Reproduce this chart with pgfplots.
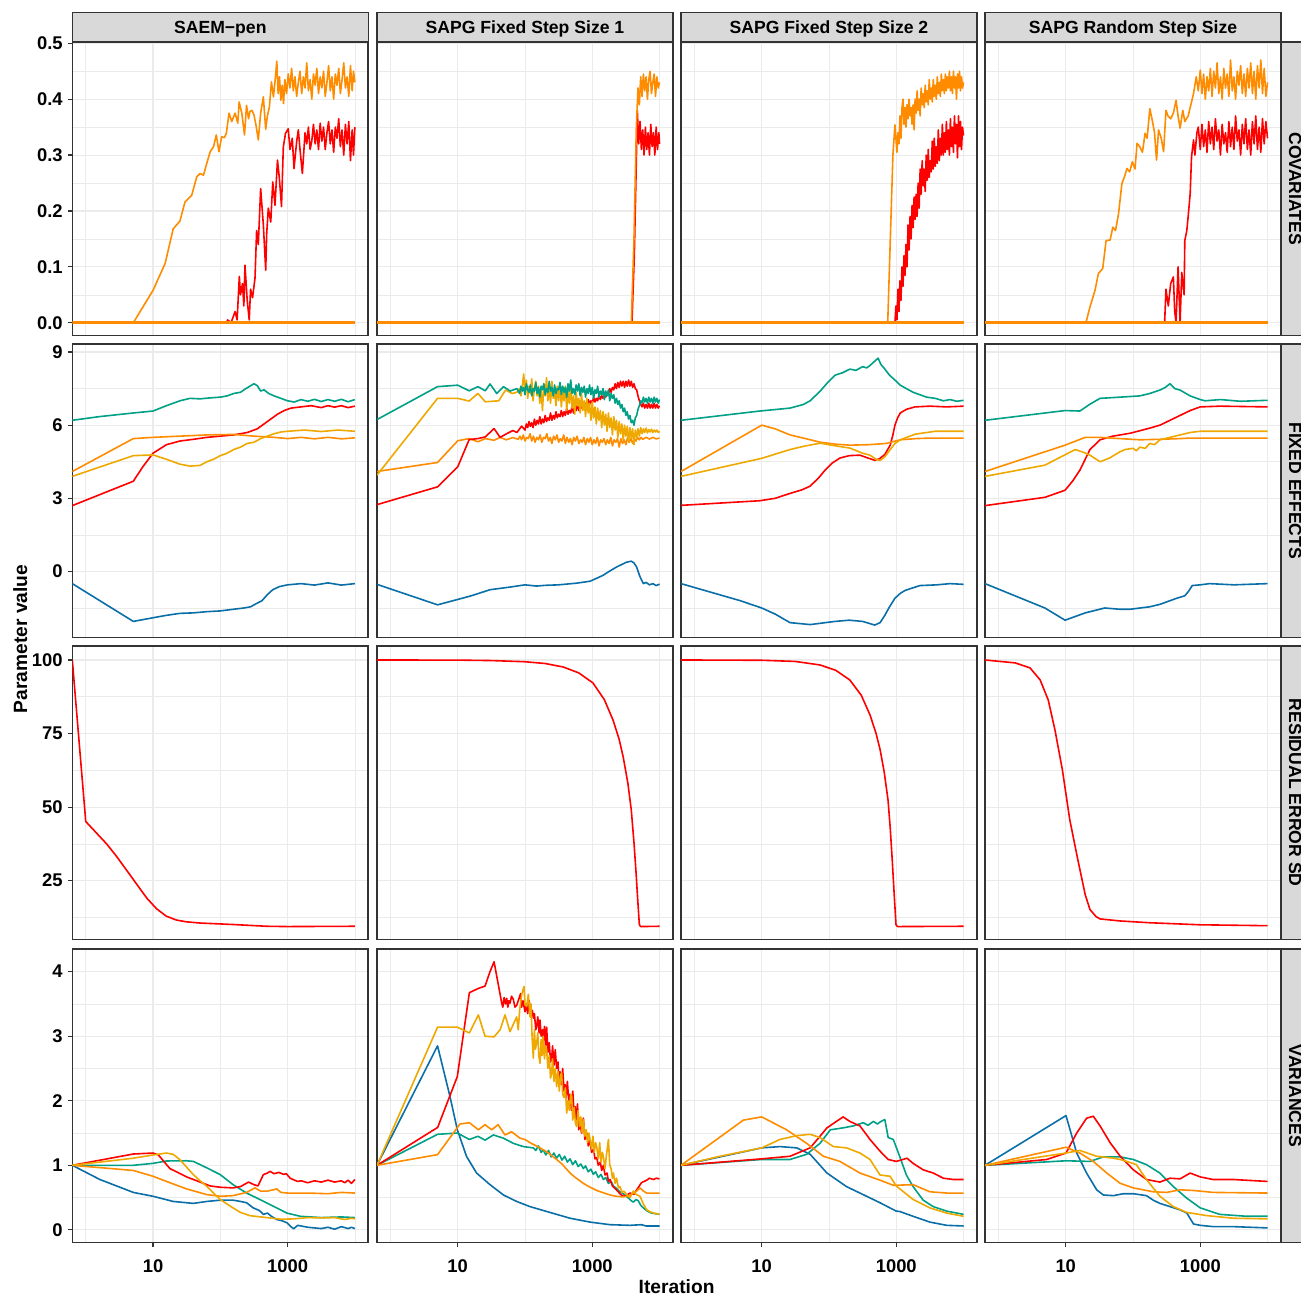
\documentclass[border=0pt]{standalone}
\usepackage{pgfplots}
\pgfplotsset{compat=1.18}
\usepackage{fontspec}
\setmainfont{Liberation Sans}
\definecolor{cRed}{HTML}{FF0000}
\definecolor{cOrg}{HTML}{FF8C00}
\definecolor{cAmb}{HTML}{EFA800}
\definecolor{cTeal}{HTML}{00A087}
\definecolor{cBlue}{HTML}{0A6EA8}
\definecolor{gridc}{HTML}{EBEBEB}
\definecolor{frame}{HTML}{333333}
\definecolor{stripc}{HTML}{D9D9D9}
\pgfplotsset{
  /pgf/number format/assume math mode=true,
  panel/.style={
    scale only axis, width=148pt, height=146.75pt, anchor=north west,
    xmin=-0.2, xmax=4.2, xtick={1,3}, minor xtick={0,2,4},
    grid=both,
    major grid style={draw=gridc, line width=0.55pt},
    minor grid style={draw=gridc, line width=0.28pt},
    axis line style={draw=frame, line width=0.8pt},
    tick align=outside, major tick length=2.2pt, minor tick length=0pt,
    tick pos=left,
    xtick style={draw=none}, ytick style={draw=none},
    ticklabel style={font=\fontsize{9.2}{10}\selectfont\bfseries, text=black},
    every axis plot/.append style={line width=0.8pt, line join=round},
    clip=true,
  },
  inner x/.style={xticklabels={}},
  inner y/.style={yticklabels={}},
  left y/.style={ytick style={draw=frame, line width=0.6pt}, yticklabel style={inner xsep=2.4pt}},
  bottom x/.style={xticklabels={10,1000}, xtick style={draw=frame, line width=0.6pt}, xticklabel style={inner ysep=6.2pt}},
  rowA/.style={ymin=-0.0228, ymax=0.5023, ytick={0,0.1,0.2,0.3,0.4,0.5}, minor ytick={0.05,0.15,0.25,0.35,0.45},
    yticklabel style={/pgf/number format/fixed, /pgf/number format/fixed zerofill, /pgf/number format/precision=1}},
  rowB/.style={ymin=-2.71, ymax=9.33, ytick={0,3,6,9}, minor ytick={-1.5,1.5,4.5,7.5}},
  rowC/.style={ymin=5.0, ymax=104.75, ytick={25,50,75,100}, minor ytick={12.5,37.5,62.5,87.5}},
  rowD/.style={ymin=-0.196, ymax=4.351, ytick={0,1,2,3,4}, minor ytick={0.5,1.5,2.5,3.5}},
}
\begin{document}
\begin{tikzpicture}
% ================= ROW 1: COVARIATES =================
\begin{axis}[panel, rowA, at={(36.15pt,627.5pt)}, inner x, left y]
\addplot[cRed] coordinates {(2.09,0) (2.11,0.005) (2.16,0.0) (2.22,0.02) (2.25,0.005) (2.283,0.083) (2.30,0.05) (2.33,0.07) (2.35,0.03) (2.367,0.103) (2.40,0.04) (2.43,0.005) (2.45,0.06) (2.48,0.045) (2.516,0.08) (2.54,0.165) (2.565,0.14) (2.60,0.24) (2.64,0.175) (2.675,0.094) (2.69,0.16) (2.714,0.205) (2.75,0.18) (2.78,0.252) (2.813,0.21) (2.85,0.291) (2.877,0.26) (2.91,0.208) (2.937,0.315) (2.97,0.339) (3.01,0.347) (3.036,0.31) (3.07,0.33) (3.096,0.276) (3.136,0.325) (3.16,0.345) (3.185,0.31) (3.22,0.267) (3.26,0.34) (3.285,0.32) (3.31,0.35) (3.335,0.31) (3.36,0.325) (3.385,0.355) (3.41,0.32) (3.435,0.345) (3.46,0.31) (3.485,0.357) (3.51,0.325) (3.535,0.35) (3.56,0.31) (3.585,0.34) (3.61,0.36) (3.635,0.32) (3.66,0.345) (3.685,0.305) (3.71,0.35) (3.735,0.33) (3.76,0.365) (3.785,0.315) (3.81,0.345) (3.835,0.30) (3.86,0.355) (3.885,0.32) (3.91,0.36) (3.935,0.29) (3.96,0.345) (3.98,0.30) (4.0,0.35)};
\addplot[cOrg] coordinates {(0.707,0) (1.0,0.058) (1.18,0.106) (1.30,0.168) (1.40,0.182) (1.475,0.216) (1.575,0.228) (1.65,0.261) (1.70,0.267) (1.75,0.264) (1.82,0.294) (1.85,0.306) (1.90,0.315) (1.94,0.336) (1.98,0.306) (2.02,0.333) (2.06,0.331) (2.09,0.339) (2.13,0.375) (2.17,0.36) (2.22,0.375) (2.26,0.357) (2.28,0.395) (2.32,0.375) (2.36,0.336) (2.39,0.389) (2.42,0.365) (2.44,0.378) (2.47,0.38) (2.50,0.372) (2.53,0.354) (2.565,0.327) (2.60,0.375) (2.64,0.404) (2.675,0.346) (2.70,0.37) (2.73,0.386) (2.76,0.431) (2.79,0.404) (2.82,0.44) (2.84,0.468) (2.86,0.41) (2.88,0.44) (2.90,0.398) (2.92,0.425) (2.94,0.392) (2.96,0.435) (2.985,0.41) (3.01,0.445) (3.035,0.42) (3.06,0.455) (3.085,0.415) (3.11,0.44) (3.135,0.405) (3.16,0.43) (3.185,0.45) (3.21,0.41) (3.235,0.44) (3.26,0.42) (3.285,0.465) (3.31,0.415) (3.335,0.435) (3.36,0.40) (3.385,0.445) (3.41,0.425) (3.435,0.455) (3.46,0.41) (3.485,0.44) (3.51,0.42) (3.535,0.45) (3.56,0.405) (3.585,0.43) (3.61,0.46) (3.635,0.415) (3.66,0.44) (3.685,0.40) (3.71,0.445) (3.735,0.425) (3.76,0.455) (3.785,0.41) (3.81,0.435) (3.835,0.465) (3.86,0.42) (3.885,0.44) (3.91,0.405) (3.935,0.46) (3.96,0.415) (3.98,0.45) (4.0,0.43)};
\addplot[cOrg, line width=1.5pt] coordinates {(-0.2,0) (4.0,0)};
\end{axis}
\begin{axis}[panel, rowA, at={(188.5pt,627.5pt)}, inner x, inner y]
\addplot[cRed] coordinates {(3.59,0) (3.625,0.12) (3.65,0.26) (3.67,0.38) (3.69,0.32) (3.71,0.36) (3.73,0.31) (3.75,0.345) (3.77,0.30) (3.79,0.35) (3.81,0.31) (3.83,0.34) (3.85,0.30) (3.87,0.355) (3.89,0.315) (3.91,0.34) (3.93,0.30) (3.95,0.35) (3.97,0.31) (3.99,0.34) (4.0,0.32)};
\addplot[cOrg] coordinates {(3.58,0) (3.62,0.15) (3.655,0.35) (3.68,0.42) (3.70,0.39) (3.72,0.44) (3.74,0.405) (3.76,0.445) (3.78,0.415) (3.80,0.44) (3.82,0.40) (3.84,0.435) (3.86,0.45) (3.88,0.41) (3.90,0.43) (3.92,0.445) (3.94,0.405) (3.96,0.44) (3.98,0.42) (4.0,0.43)};
\addplot[cOrg, line width=1.5pt] coordinates {(-0.2,0) (4.0,0)};
\end{axis}
\begin{axis}[panel, rowA, at={(340.5pt,627.5pt)}, inner x, inner y]
\addplot[cRed] coordinates {(2.98,0.0) (2.995,0.03) (3.01,0.005) (3.025,0.06) (3.04,0.02) (3.055,0.075) (3.07,0.04) (3.085,0.10) (3.10,0.065) (3.115,0.12) (3.13,0.085) (3.145,0.14) (3.16,0.10) (3.175,0.175) (3.19,0.13) (3.205,0.19) (3.22,0.15) (3.235,0.21) (3.25,0.17) (3.265,0.225) (3.28,0.185) (3.295,0.23) (3.31,0.19) (3.325,0.25) (3.34,0.205) (3.355,0.275) (3.37,0.23) (3.385,0.29) (3.40,0.245) (3.415,0.275) (3.43,0.235) (3.445,0.30) (3.46,0.255) (3.475,0.31) (3.49,0.26) (3.505,0.29) (3.52,0.27) (3.535,0.325) (3.55,0.275) (3.565,0.33) (3.58,0.28) (3.595,0.315) (3.61,0.285) (3.625,0.345) (3.64,0.29) (3.655,0.33) (3.67,0.30) (3.685,0.355) (3.70,0.30) (3.715,0.34) (3.73,0.305) (3.745,0.36) (3.76,0.31) (3.775,0.345) (3.79,0.30) (3.805,0.365) (3.82,0.315) (3.835,0.35) (3.85,0.305) (3.865,0.37) (3.88,0.32) (3.895,0.355) (3.91,0.295) (3.925,0.37) (3.94,0.315) (3.955,0.36) (3.97,0.31) (3.985,0.35) (4.0,0.335)};
\addplot[cOrg] coordinates {(2.873,0) (2.95,0.3) (2.98,0.354) (2.995,0.33) (3.01,0.305) (3.025,0.34) (3.04,0.32) (3.055,0.37) (3.07,0.33) (3.085,0.385) (3.10,0.40) (3.115,0.355) (3.13,0.385) (3.145,0.35) (3.16,0.39) (3.175,0.365) (3.19,0.40) (3.205,0.37) (3.22,0.385) (3.235,0.355) (3.25,0.39) (3.265,0.345) (3.28,0.40) (3.295,0.375) (3.31,0.415) (3.325,0.38) (3.34,0.40) (3.355,0.37) (3.37,0.42) (3.385,0.39) (3.40,0.41) (3.415,0.385) (3.43,0.425) (3.445,0.395) (3.46,0.415) (3.475,0.39) (3.49,0.435) (3.505,0.40) (3.52,0.42) (3.535,0.395) (3.55,0.435) (3.565,0.405) (3.58,0.425) (3.595,0.40) (3.61,0.44) (3.625,0.41) (3.64,0.43) (3.655,0.405) (3.67,0.445) (3.685,0.415) (3.70,0.435) (3.715,0.41) (3.73,0.445) (3.745,0.415) (3.76,0.44) (3.775,0.42) (3.79,0.45) (3.805,0.415) (3.82,0.44) (3.835,0.41) (3.85,0.45) (3.865,0.42) (3.88,0.44) (3.895,0.40) (3.91,0.445) (3.925,0.42) (3.94,0.45) (3.955,0.415) (3.97,0.44) (3.985,0.42) (4.0,0.43)};
\addplot[cOrg, line width=1.5pt] coordinates {(-0.2,0) (4.0,0)};
\end{axis}
\begin{axis}[panel, rowA, at={(492.5pt,627.5pt)}, inner x, inner y]
\addplot[cRed] coordinates {(2.47,0) (2.49,0.06) (2.525,0.03) (2.56,0.07) (2.60,0.082) (2.62,0.02) (2.64,0.0) (2.67,0.10) (2.70,0.0) (2.725,0.09) (2.76,0.05) (2.77,0.147) (2.80,0.165) (2.82,0.19) (2.85,0.231) (2.87,0.297) (2.90,0.327) (2.92,0.30) (2.95,0.34) (2.97,0.35) (3.0,0.31) (3.025,0.355) (3.05,0.315) (3.075,0.345) (3.10,0.305) (3.125,0.36) (3.15,0.32) (3.175,0.35) (3.20,0.31) (3.225,0.365) (3.25,0.325) (3.275,0.345) (3.30,0.30) (3.325,0.355) (3.35,0.32) (3.375,0.34) (3.40,0.305) (3.425,0.36) (3.45,0.315) (3.475,0.35) (3.50,0.31) (3.525,0.37) (3.55,0.325) (3.575,0.345) (3.60,0.30) (3.625,0.355) (3.65,0.32) (3.675,0.365) (3.70,0.31) (3.725,0.345) (3.75,0.30) (3.775,0.36) (3.80,0.32) (3.825,0.37) (3.85,0.31) (3.875,0.35) (3.90,0.305) (3.925,0.365) (3.95,0.32) (3.975,0.36) (4.0,0.33)};
\addplot[cOrg] coordinates {(1.30,0) (1.36,0.028) (1.435,0.058) (1.485,0.088) (1.55,0.097) (1.60,0.147) (1.66,0.148) (1.70,0.171) (1.74,0.165) (1.785,0.195) (1.835,0.249) (1.87,0.26) (1.91,0.276) (1.95,0.27) (1.99,0.288) (2.03,0.275) (2.06,0.321) (2.10,0.315) (2.14,0.305) (2.18,0.339) (2.21,0.33) (2.25,0.383) (2.29,0.36) (2.32,0.34) (2.35,0.291) (2.38,0.345) (2.42,0.33) (2.455,0.306) (2.49,0.38) (2.52,0.37) (2.56,0.365) (2.60,0.375) (2.64,0.398) (2.67,0.37) (2.70,0.348) (2.74,0.38) (2.77,0.36) (2.82,0.37) (2.86,0.39) (2.90,0.41) (2.94,0.44) (2.97,0.415) (3.0,0.452) (3.025,0.41) (3.05,0.445) (3.075,0.40) (3.10,0.44) (3.125,0.415) (3.15,0.455) (3.175,0.405) (3.20,0.45) (3.225,0.42) (3.25,0.465) (3.275,0.41) (3.30,0.44) (3.325,0.40) (3.35,0.455) (3.375,0.42) (3.40,0.445) (3.425,0.405) (3.45,0.47) (3.475,0.415) (3.50,0.44) (3.525,0.40) (3.55,0.45) (3.575,0.425) (3.60,0.46) (3.625,0.41) (3.65,0.445) (3.675,0.405) (3.70,0.455) (3.725,0.42) (3.75,0.465) (3.775,0.41) (3.80,0.45) (3.825,0.40) (3.85,0.46) (3.875,0.42) (3.90,0.47) (3.925,0.41) (3.95,0.455) (3.975,0.405) (4.0,0.43)};
\addplot[cOrg, line width=1.5pt] coordinates {(-0.2,0) (4.0,0)};
\end{axis}
% ================= ROW 2: FIXED EFFECTS =================
\begin{axis}[panel, rowB, at={(36.15pt,476.5pt)}, inner x, left y]
\addplot[cTeal] coordinates {(-0.2,6.2) (0.2,6.35) (0.707,6.5) (1.0,6.58) (1.2,6.8) (1.4,7.0) (1.55,7.1) (1.7,7.08) (1.85,7.12) (2.0,7.15) (2.1,7.2) (2.2,7.3) (2.3,7.35) (2.38,7.5) (2.44,7.6) (2.5,7.7) (2.55,7.62) (2.6,7.4) (2.65,7.45) (2.72,7.3) (2.8,7.2) (2.9,7.1) (3.0,7.0) (3.1,6.95) (3.2,7.05) (3.3,6.98) (3.4,7.06) (3.5,6.97) (3.6,7.05) (3.7,6.98) (3.8,7.06) (3.9,6.96) (4.0,7.05)};
\addplot[cRed] coordinates {(-0.2,2.7) (0.707,3.7) (0.85,4.3) (1.0,4.85) (1.2,5.2) (1.4,5.35) (1.6,5.42) (1.8,5.5) (2.0,5.55) (2.2,5.6) (2.4,5.7) (2.55,5.85) (2.65,6.05) (2.75,6.25) (2.85,6.45) (2.95,6.6) (3.05,6.7) (3.2,6.75) (3.35,6.8) (3.5,6.72) (3.6,6.8) (3.7,6.74) (3.8,6.8) (3.9,6.72) (4.0,6.78)};
\addplot[cOrg] coordinates {(-0.2,4.1) (0.707,5.45) (1.0,5.5) (1.4,5.55) (1.8,5.6) (2.2,5.62) (2.5,5.55) (2.8,5.5) (3.0,5.45) (3.2,5.5) (3.4,5.44) (3.6,5.5) (3.8,5.44) (4.0,5.48)};
\addplot[cAmb] coordinates {(-0.2,3.9) (0.707,4.75) (1.0,4.78) (1.2,4.6) (1.4,4.4) (1.55,4.32) (1.7,4.35) (1.8,4.5) (1.9,4.6) (2.0,4.75) (2.1,4.85) (2.2,5.0) (2.3,5.1) (2.4,5.25) (2.5,5.3) (2.6,5.45) (2.7,5.55) (2.8,5.65) (2.9,5.72) (3.0,5.75) (3.25,5.8) (3.5,5.74) (3.75,5.8) (4.0,5.75)};
\addplot[cBlue] coordinates {(-0.2,-0.5) (0.707,-2.05) (1.0,-1.9) (1.2,-1.8) (1.4,-1.72) (1.6,-1.7) (1.8,-1.65) (2.0,-1.62) (2.2,-1.55) (2.35,-1.5) (2.45,-1.45) (2.55,-1.3) (2.62,-1.2) (2.7,-0.95) (2.78,-0.75) (2.88,-0.62) (3.0,-0.55) (3.2,-0.5) (3.4,-0.56) (3.6,-0.47) (3.8,-0.56) (4.0,-0.5)};
\end{axis}
\begin{axis}[panel, rowB, at={(188.5pt,476.5pt)}, inner x, inner y]
\addplot[cOrg] coordinates {(-0.2,4.1) (0.70,4.47) (1.0,5.36) (1.17,5.45) (1.30,5.32) (1.41,5.45) (1.54,5.38) (1.63,5.5) (1.72,5.4) (1.82,5.49) (1.90,5.42) (1.925,5.55) (1.95,5.4) (1.975,5.6) (2.0,5.35) (2.025,5.5) (2.05,5.45) (2.075,5.65) (2.1,5.35) (2.125,5.55) (2.15,5.3) (2.175,5.5) (2.2,5.4) (2.225,5.6) (2.25,5.3) (2.275,5.5) (2.3,5.45) (2.325,5.65) (2.35,5.35) (2.375,5.5) (2.4,5.25) (2.425,5.55) (2.45,5.4) (2.475,5.6) (2.5,5.3) (2.525,5.45) (2.55,5.35) (2.575,5.6) (2.6,5.25) (2.625,5.5) (2.65,5.3) (2.675,5.45) (2.7,5.2) (2.725,5.5) (2.75,5.35) (2.775,5.55) (2.8,5.25) (2.825,5.4) (2.85,5.3) (2.875,5.5) (2.9,5.2) (2.925,5.45) (2.95,5.3) (2.975,5.5) (3.0,5.2) (3.025,5.4) (3.05,5.25) (3.075,5.5) (3.1,5.15) (3.125,5.4) (3.15,5.3) (3.175,5.45) (3.2,5.2) (3.225,5.4) (3.25,5.25) (3.275,5.5) (3.3,5.15) (3.325,5.4) (3.35,5.3) (3.375,5.45) (3.4,5.1) (3.425,5.45) (3.45,5.25) (3.475,5.4) (3.5,5.2) (3.525,5.5) (3.55,5.3) (3.575,5.45) (3.6,5.25) (3.625,5.45) (3.65,5.35) (3.675,5.5) (3.7,5.4) (3.725,5.5) (3.75,5.42) (3.8,5.5) (3.85,5.43) (3.9,5.5) (3.95,5.44) (4.0,5.47)};
\addplot[cRed] coordinates {(-0.2,2.74) (0.70,3.47) (1.0,4.29) (1.17,5.41) (1.30,5.45) (1.41,5.52) (1.54,5.86) (1.63,5.5) (1.72,5.64) (1.82,5.78) (1.88,5.7) (1.95,5.96) (2.00,5.8) (2.02,6.05) (2.04,5.9) (2.06,6.15) (2.08,5.95) (2.10,6.1) (2.12,5.9) (2.14,6.25) (2.16,6.0) (2.18,6.2) (2.20,6.05) (2.22,6.35) (2.24,6.05) (2.26,6.25) (2.28,6.1) (2.30,6.4) (2.32,6.15) (2.34,6.3) (2.36,6.2) (2.38,6.5) (2.40,6.2) (2.42,6.4) (2.44,6.25) (2.46,6.55) (2.48,6.3) (2.50,6.45) (2.52,6.35) (2.54,6.6) (2.56,6.35) (2.58,6.55) (2.60,6.4) (2.62,6.7) (2.64,6.45) (2.66,6.6) (2.68,6.5) (2.70,6.8) (2.72,6.5) (2.74,6.7) (2.76,6.6) (2.78,6.85) (2.80,6.6) (2.82,6.8) (2.84,6.7) (2.86,6.95) (2.88,6.7) (2.90,6.9) (2.92,6.8) (2.94,7.05) (2.96,6.85) (2.98,7.0) (3.00,6.9) (3.02,7.15) (3.04,6.95) (3.06,7.1) (3.08,7.0) (3.10,7.25) (3.12,7.05) (3.14,7.2) (3.16,7.1) (3.18,7.35) (3.20,7.15) (3.22,7.3) (3.24,7.25) (3.26,7.5) (3.28,7.35) (3.30,7.55) (3.32,7.45) (3.34,7.7) (3.36,7.5) (3.38,7.75) (3.40,7.55) (3.42,7.8) (3.44,7.6) (3.46,7.8) (3.48,7.55) (3.50,7.8) (3.52,7.6) (3.54,7.85) (3.56,7.6) (3.58,7.8) (3.60,7.55) (3.62,7.7) (3.64,7.5) (3.66,7.45) (3.68,7.2) (3.70,7.0) (3.72,6.85) (3.74,6.75) (3.76,6.9) (3.78,6.7) (3.80,6.85) (3.82,6.7) (3.84,6.9) (3.86,6.7) (3.88,6.85) (3.90,6.7) (3.92,6.9) (3.94,6.7) (3.96,6.85) (3.98,6.7) (4.0,6.8)};
\addplot[cAmb] coordinates {(-0.2,3.95) (0.70,7.1) (1.0,7.1) (1.17,6.99) (1.30,7.3) (1.41,6.96) (1.61,7.0) (1.71,7.44) (1.81,7.3) (1.88,7.35) (1.92,7.5) (1.94,7.2) (1.96,7.6) (1.98,8.1) (2.00,7.4) (2.02,7.85) (2.04,7.1) (2.06,7.6) (2.08,7.3) (2.10,7.9) (2.12,7.0) (2.14,7.5) (2.16,7.8) (2.18,7.2) (2.20,7.6) (2.22,6.9) (2.24,7.4) (2.26,6.6) (2.28,7.7) (2.30,7.2) (2.32,7.95) (2.34,7.0) (2.36,7.5) (2.38,6.9) (2.40,7.8) (2.42,7.1) (2.44,7.45) (2.46,6.8) (2.48,7.6) (2.50,7.0) (2.52,7.7) (2.54,6.75) (2.56,7.35) (2.58,7.0) (2.60,7.6) (2.62,6.6) (2.64,7.4) (2.66,6.9) (2.68,7.55) (2.70,6.7) (2.72,7.2) (2.74,6.45) (2.76,7.35) (2.78,6.8) (2.80,7.1) (2.82,6.5) (2.84,7.3) (2.86,6.6) (2.88,7.0) (2.90,6.35) (2.92,7.1) (2.94,6.5) (2.96,6.9) (2.98,6.2) (3.00,6.95) (3.02,6.3) (3.04,6.75) (3.06,6.05) (3.08,6.7) (3.10,6.2) (3.12,6.6) (3.14,5.9) (3.16,6.55) (3.18,6.0) (3.20,6.45) (3.22,5.75) (3.24,6.5) (3.26,5.9) (3.28,6.3) (3.30,5.6) (3.32,6.35) (3.34,5.8) (3.36,6.2) (3.38,5.5) (3.40,6.15) (3.42,5.65) (3.44,6.05) (3.46,5.4) (3.48,6.0) (3.50,5.55) (3.52,5.95) (3.54,5.3) (3.56,5.9) (3.58,5.45) (3.60,5.85) (3.62,5.2) (3.64,5.8) (3.66,5.5) (3.68,5.85) (3.70,5.55) (3.72,5.9) (3.74,5.65) (3.76,5.85) (3.78,5.7) (3.80,5.88) (3.82,5.68) (3.84,5.82) (3.86,5.72) (3.88,5.84) (3.90,5.7) (3.92,5.8) (3.94,5.72) (3.96,5.8) (3.98,5.7) (4.0,5.75)};
\addplot[cTeal] coordinates {(-0.2,6.23) (0.70,7.58) (1.0,7.64) (1.17,7.41) (1.30,7.58) (1.41,7.41) (1.48,7.69) (1.58,7.3) (1.68,7.58) (1.78,7.4) (1.88,7.5) (1.92,7.3) (1.94,7.6) (1.96,7.4) (1.98,7.55) (2.00,7.25) (2.02,7.7) (2.04,7.45) (2.06,7.35) (2.08,7.65) (2.10,7.2) (2.12,7.5) (2.14,7.4) (2.16,7.75) (2.18,7.3) (2.20,7.55) (2.22,7.15) (2.24,7.6) (2.26,7.45) (2.28,7.7) (2.30,7.25) (2.32,7.5) (2.34,7.35) (2.36,7.8) (2.38,7.4) (2.40,7.55) (2.42,7.2) (2.44,7.65) (2.46,7.3) (2.48,7.5) (2.50,7.45) (2.52,7.75) (2.54,7.25) (2.56,7.6) (2.58,7.35) (2.60,7.55) (2.62,7.15) (2.64,7.7) (2.66,7.4) (2.68,7.85) (2.70,7.3) (2.72,7.5) (2.74,7.25) (2.76,7.65) (2.78,7.4) (2.80,7.7) (2.82,7.2) (2.84,7.55) (2.86,7.35) (2.88,7.6) (2.90,7.15) (2.92,7.5) (2.94,7.3) (2.96,7.65) (2.98,7.25) (3.00,7.55) (3.02,7.1) (3.04,7.45) (3.06,7.3) (3.08,7.6) (3.10,7.15) (3.12,7.4) (3.14,7.25) (3.16,7.5) (3.18,7.05) (3.20,7.4) (3.22,7.2) (3.24,7.45) (3.26,7.0) (3.28,7.3) (3.30,7.1) (3.32,7.25) (3.34,6.9) (3.36,7.1) (3.38,6.85) (3.40,7.0) (3.42,6.7) (3.44,6.85) (3.46,6.55) (3.48,6.7) (3.50,6.4) (3.52,6.55) (3.54,6.25) (3.56,6.4) (3.58,6.1) (3.60,6.2) (3.62,6.0) (3.64,6.3) (3.66,6.4) (3.68,6.65) (3.70,6.8) (3.72,7.0) (3.74,6.9) (3.76,7.15) (3.78,6.95) (3.80,7.1) (3.82,6.9) (3.84,7.15) (3.86,6.95) (3.88,7.1) (3.90,6.9) (3.92,7.15) (3.94,6.95) (3.96,7.1) (3.98,6.9) (4.0,7.05)};
\addplot[cBlue] coordinates {(-0.2,-0.53) (0.70,-1.37) (0.985,-1.16) (1.2,-1.0) (1.48,-0.75) (1.78,-0.64) (2.0,-0.55) (2.17,-0.6) (2.3,-0.57) (2.5,-0.55) (2.77,-0.48) (2.97,-0.4) (3.16,-0.16) (3.25,0.0) (3.36,0.18) (3.45,0.3) (3.51,0.38) (3.58,0.42) (3.62,0.35) (3.66,0.18) (3.70,-0.15) (3.73,-0.34) (3.76,-0.5) (3.8,-0.45) (3.85,-0.55) (3.9,-0.5) (3.95,-0.58) (4.0,-0.52)};
\end{axis}
\begin{axis}[panel, rowB, at={(340.5pt,476.5pt)}, inner x, inner y]
\addplot[cTeal] coordinates {(-0.2,6.2) (0.97,6.58) (1.42,6.7) (1.62,6.85) (1.72,7.0) (1.87,7.4) (1.98,7.75) (2.09,8.05) (2.2,8.15) (2.31,8.3) (2.4,8.25) (2.5,8.4) (2.56,8.35) (2.61,8.45) (2.67,8.6) (2.73,8.75) (2.77,8.5) (2.83,8.3) (2.9,8.05) (2.98,7.85) (3.06,7.64) (3.15,7.5) (3.25,7.35) (3.35,7.25) (3.45,7.15) (3.58,7.1) (3.7,7.0) (3.8,7.05) (3.9,6.98) (4.0,7.02)};
\addplot[cRed] coordinates {(-0.2,2.71) (0.97,2.9) (1.2,3.0) (1.42,3.2) (1.6,3.35) (1.72,3.5) (1.85,3.85) (1.94,4.15) (2.05,4.45) (2.16,4.65) (2.3,4.75) (2.46,4.77) (2.58,4.65) (2.68,4.56) (2.75,4.62) (2.83,4.8) (2.91,5.18) (2.95,5.6) (2.98,6.0) (3.02,6.3) (3.06,6.5) (3.15,6.65) (3.28,6.75) (3.5,6.78) (3.75,6.75) (4.0,6.78)};
\addplot[cOrg] coordinates {(-0.2,4.1) (1.0,6.0) (1.2,5.85) (1.42,5.6) (1.65,5.45) (1.87,5.3) (2.1,5.22) (2.31,5.18) (2.6,5.2) (2.85,5.25) (3.06,5.4) (3.3,5.45) (3.5,5.47) (4.0,5.47)};
\addplot[cAmb] coordinates {(-0.2,3.9) (1.0,4.64) (1.42,5.0) (1.65,5.15) (1.87,5.26) (2.1,5.15) (2.31,5.06) (2.5,4.85) (2.61,4.77) (2.7,4.6) (2.76,4.55) (2.83,4.7) (2.91,5.0) (2.98,5.25) (3.06,5.4) (3.28,5.63) (3.58,5.75) (4.0,5.75)};
\addplot[cBlue] coordinates {(-0.2,-0.5) (0.68,-1.2) (1.0,-1.5) (1.2,-1.75) (1.42,-2.1) (1.72,-2.18) (2.09,-2.05) (2.3,-2.0) (2.5,-2.05) (2.68,-2.2) (2.76,-2.1) (2.83,-1.8) (2.9,-1.45) (2.98,-1.1) (3.06,-0.9) (3.13,-0.78) (3.35,-0.58) (3.6,-0.55) (3.8,-0.5) (4.0,-0.53)};
\end{axis}
\begin{axis}[panel, rowB, at={(492.5pt,476.5pt)}, inner x, inner y]
\addplot[cTeal] coordinates {(-0.2,6.2) (0.99,6.6) (1.21,6.58) (1.36,6.86) (1.51,7.1) (1.81,7.15) (2.1,7.2) (2.25,7.3) (2.40,7.44) (2.48,7.55) (2.55,7.7) (2.62,7.5) (2.7,7.44) (2.85,7.2) (3.0,7.05) (3.07,7.0) (3.3,7.05) (3.6,6.98) (4.0,7.02)};
\addplot[cRed] coordinates {(-0.2,2.7) (0.69,3.04) (0.99,3.33) (1.1,3.7) (1.21,4.15) (1.36,5.0) (1.51,5.4) (1.7,5.55) (1.96,5.67) (2.25,5.88) (2.4,6.0) (2.55,6.2) (2.7,6.4) (2.85,6.6) (3.0,6.75) (3.3,6.78) (4.0,6.75)};
\addplot[cOrg] coordinates {(-0.2,4.1) (0.99,5.18) (1.29,5.5) (1.5,5.5) (1.8,5.45) (2.1,5.4) (2.4,5.42) (2.7,5.45) (2.85,5.47) (4.0,5.47)};
\addplot[cAmb] coordinates {(-0.2,3.9) (0.69,4.36) (1.14,5.0) (1.25,4.9) (1.36,4.77) (1.51,4.5) (1.65,4.65) (1.8,4.9) (1.88,5.0) (2.0,5.05) (2.05,4.95) (2.1,5.1) (2.18,5.05) (2.25,5.25) (2.32,5.2) (2.4,5.4) (2.55,5.5) (2.7,5.6) (2.85,5.7) (3.0,5.75) (4.0,5.75)};
\addplot[cBlue] coordinates {(-0.2,-0.5) (0.69,-1.5) (0.99,-2.0) (1.29,-1.7) (1.58,-1.5) (1.8,-1.55) (1.96,-1.55) (2.25,-1.45) (2.4,-1.35) (2.55,-1.2) (2.65,-1.1) (2.77,-1.0) (2.83,-0.8) (2.88,-0.58) (3.0,-0.55) (3.14,-0.5) (3.5,-0.55) (4.0,-0.5)};
\end{axis}
% ================= ROW 3: RESIDUAL ERROR SD =================
\begin{axis}[panel, rowC, at={(36.15pt,325.5pt)}, inner x, left y]
\addplot[cRed] coordinates {(-0.2,100) (0.0,45.1) (0.31,37.5) (0.46,33.2) (0.71,25.3) (0.906,19.1) (1.055,15.4) (1.20,12.9) (1.35,11.6) (1.5,11.0) (1.70,10.6) (2.19,10.1) (2.69,9.5) (3.0,9.4) (4.0,9.5)};
\end{axis}
\begin{axis}[panel, rowC, at={(188.5pt,325.5pt)}, inner x, inner y]
\addplot[cRed] coordinates {(-0.2,100) (1.0,99.95) (1.5,99.8) (2.0,99.4) (2.3,98.8) (2.57,97.6) (2.8,95.6) (3.01,92.2) (3.18,86.5) (3.31,79.5) (3.40,73.0) (3.46,67.0) (3.53,58.0) (3.58,49.0) (3.62,38.0) (3.65,28.0) (3.68,17.0) (3.70,10.0) (3.72,9.4) (4.0,9.5)};
\end{axis}
\begin{axis}[panel, rowC, at={(340.5pt,325.5pt)}, inner x, inner y]
\addplot[cRed] coordinates {(-0.2,100) (1.0,99.9) (1.5,99.5) (1.866,98.3) (2.1,96.5) (2.31,93.2) (2.48,88.0) (2.61,81.3) (2.70,75.0) (2.76,69.5) (2.82,62.0) (2.877,52.5) (2.91,43.0) (2.94,32) (2.97,20) (2.996,10) (3.02,9.4) (4.0,9.5)};
\end{axis}
\begin{axis}[panel, rowC, at={(492.5pt,325.5pt)}, inner x, inner y]
\addplot[cRed] coordinates {(-0.2,100) (0.25,99.0) (0.47,97.3) (0.62,93.2) (0.74,86.4) (0.84,76.2) (0.95,62.7) (1.06,45.7) (1.18,32.1) (1.29,20.2) (1.36,15.2) (1.45,12.8) (1.51,12.0) (1.81,11.3) (2.25,10.7) (3.0,10.0) (4.0,9.7)};
\end{axis}
% ================= ROW 4: VARIANCES =================
\begin{axis}[panel, rowD, at={(36.15pt,174pt)}, bottom x, left y]
\addplot[cTeal] coordinates {(-0.2,1.0) (0.707,1.0) (1.0,1.03) (1.20,1.067) (1.5,1.07) (1.6,1.06) (1.8,0.96) (2.0,0.855) (2.19,0.70) (2.39,0.57) (2.59,0.47) (2.79,0.365) (2.99,0.26) (3.19,0.21) (3.5,0.19) (3.8,0.2) (4.0,0.19)};
\addplot[cBlue] coordinates {(-0.2,1.0) (0.21,0.78) (0.707,0.58) (1.0,0.52) (1.30,0.44) (1.60,0.41) (1.8,0.44) (2.0,0.46) (2.19,0.46) (2.3,0.44) (2.39,0.42) (2.49,0.34) (2.58,0.30) (2.64,0.24) (2.7,0.26) (2.76,0.21) (2.84,0.16) (2.92,0.14) (2.99,0.11) (3.05,0.05) (3.09,0.016) (3.15,0.07) (3.2,0.06) (3.3,0.04) (3.4,0.03) (3.5,0.02) (3.6,0.04) (3.7,0.01) (3.8,0.05) (3.9,0.02) (3.95,0.04) (4.0,0.02)};
\addplot[cRed] coordinates {(-0.2,1.0) (0.707,1.175) (1.0,1.19) (1.08,1.16) (1.25,0.95) (1.5,0.82) (1.7,0.74) (1.85,0.68) (2.0,0.66) (2.19,0.65) (2.3,0.67) (2.42,0.74) (2.5,0.70) (2.56,0.68) (2.64,0.855) (2.7,0.88) (2.74,0.906) (2.8,0.87) (2.87,0.89) (2.94,0.86) (2.98,0.87) (3.04,0.80) (3.085,0.778) (3.15,0.75) (3.2,0.76) (3.3,0.73) (3.4,0.76) (3.5,0.74) (3.6,0.77) (3.7,0.74) (3.8,0.76) (3.85,0.73) (3.9,0.77) (3.95,0.72) (4.0,0.78)};
\addplot[cOrg] coordinates {(-0.2,1.0) (0.707,0.92) (1.0,0.83) (1.20,0.75) (1.50,0.634) (1.80,0.546) (2.0,0.52) (2.19,0.53) (2.39,0.58) (2.515,0.65) (2.6,0.6) (2.7,0.6) (2.84,0.634) (2.9,0.58) (3.0,0.57) (3.3,0.57) (3.6,0.56) (3.8,0.58) (4.0,0.57)};
\addplot[cAmb] coordinates {(-0.2,1.0) (0.707,1.11) (1.0,1.16) (1.20,1.19) (1.30,1.17) (1.40,1.087) (1.50,0.97) (1.60,0.855) (1.70,0.76) (1.80,0.674) (1.90,0.57) (2.0,0.47) (2.1,0.40) (2.19,0.34) (2.3,0.27) (2.44,0.22) (2.69,0.19) (2.9,0.165) (3.1,0.17) (3.3,0.19) (3.5,0.185) (3.7,0.19) (3.85,0.16) (3.95,0.18) (4.0,0.17)};
\end{axis}
\begin{axis}[panel, rowD, at={(188.5pt,174pt)}, bottom x, inner y]
\addplot[cBlue] coordinates {(-0.2,1.0) (0.70,2.85) (0.884,2.07) (0.994,1.55) (1.13,1.14) (1.28,0.88) (1.48,0.70) (1.68,0.54) (1.876,0.44) (2.074,0.36) (2.37,0.27) (2.67,0.18) (2.967,0.12) (3.264,0.08) (3.56,0.07) (3.73,0.08) (3.8,0.06) (4.0,0.06)};
\addplot[cTeal] coordinates {(-0.2,1.0) (0.70,1.48) (0.994,1.50) (1.173,1.40) (1.30,1.45) (1.406,1.39) (1.53,1.47) (1.68,1.42) (1.827,1.34) (1.975,1.29) (2.124,1.27) (2.16,1.23) (2.2,1.3) (2.24,1.2) (2.272,1.24) (2.31,1.16) (2.35,1.23) (2.39,1.13) (2.43,1.19) (2.47,1.11) (2.51,1.17) (2.55,1.08) (2.59,1.14) (2.63,1.05) (2.67,1.1) (2.71,1.01) (2.75,1.07) (2.79,0.98) (2.83,1.02) (2.868,0.95) (2.9,0.99) (2.94,0.9) (2.98,0.94) (3.016,0.86) (3.05,0.9) (3.09,0.81) (3.13,0.86) (3.165,0.78) (3.2,0.81) (3.24,0.72) (3.28,0.75) (3.314,0.68) (3.35,0.65) (3.4,0.6) (3.46,0.56) (3.53,0.5) (3.58,0.45) (3.61,0.43) (3.65,0.47) (3.685,0.45) (3.72,0.38) (3.76,0.34) (3.82,0.29) (3.88,0.26) (4.0,0.24)};
\addplot[cRed] coordinates {(-0.2,1.0) (0.702,1.587) (0.994,2.375) (1.173,3.675) (1.307,3.74) (1.406,3.777) (1.48,4.0) (1.54,4.154) (1.653,3.52) (1.67,3.45) (1.69,3.6) (1.71,3.5) (1.728,3.587) (1.745,3.45) (1.76,3.55) (1.777,3.51) (1.80,3.62) (1.827,3.57) (1.85,3.45) (1.876,3.48) (1.90,3.55) (1.935,3.66) (1.95,3.45) (1.97,3.55) (2.0,3.38) (2.02,3.5) (2.04,3.35) (2.06,3.55) (2.074,3.48) (2.09,3.3) (2.11,3.4) (2.124,3.28) (2.14,3.35) (2.16,3.1) (2.173,3.15) (2.19,3.3) (2.21,3.05) (2.223,3.25) (2.24,3.0) (2.26,3.1) (2.272,2.94) (2.29,3.15) (2.305,2.85) (2.322,3.14) (2.34,2.75) (2.36,2.9) (2.38,2.6) (2.396,2.66) (2.41,2.85) (2.43,2.55) (2.45,2.79) (2.47,2.5) (2.49,2.6) (2.505,2.3) (2.52,2.45) (2.54,2.25) (2.56,2.5) (2.58,2.15) (2.595,2.25) (2.61,2.05) (2.63,2.3) (2.65,2.0) (2.67,2.1) (2.69,1.85) (2.71,2.15) (2.73,1.8) (2.744,1.91) (2.76,1.7) (2.78,1.95) (2.80,1.55) (2.818,1.7) (2.84,1.5) (2.868,1.73) (2.89,1.4) (2.92,1.5) (2.94,1.3) (2.967,1.38) (2.99,1.2) (3.02,1.25) (3.04,1.1) (3.066,1.12) (3.09,1.0) (3.12,1.05) (3.14,0.92) (3.165,1.0) (3.19,0.85) (3.22,0.88) (3.24,0.75) (3.264,0.78) (3.3,0.68) (3.36,0.62) (3.42,0.55) (3.46,0.52) (3.5,0.53) (3.56,0.57) (3.62,0.55) (3.66,0.62) (3.70,0.68) (3.73,0.73) (3.77,0.75) (3.81,0.77) (3.85,0.8) (3.91,0.78) (3.95,0.8) (4.0,0.79)};
\addplot[cOrg] coordinates {(-0.2,1.0) (0.70,1.165) (1.034,1.64) (1.173,1.66) (1.307,1.55) (1.406,1.63) (1.505,1.55) (1.60,1.63) (1.703,1.47) (1.80,1.52) (1.926,1.42) (2.0,1.4) (2.074,1.35) (2.15,1.31) (2.272,1.24) (2.35,1.19) (2.47,1.09) (2.55,1.02) (2.67,0.88) (2.75,0.81) (2.868,0.72) (2.95,0.67) (3.066,0.61) (3.15,0.58) (3.264,0.54) (3.36,0.52) (3.46,0.51) (3.55,0.53) (3.61,0.57) (3.66,0.6) (3.71,0.65) (3.76,0.6) (3.81,0.57) (3.9,0.57) (4.0,0.57)};
\addplot[cAmb] coordinates {(-0.2,1.0) (0.70,3.14) (0.994,3.14) (1.173,3.05) (1.307,3.33) (1.406,3.0) (1.54,2.99) (1.63,3.1) (1.703,3.33) (1.777,3.07) (1.876,3.30) (1.90,3.1) (1.92,3.4) (1.95,3.64) (1.985,3.77) (2.0,3.5) (2.025,3.46) (2.05,3.65) (2.074,3.30) (2.09,3.5) (2.105,3.0) (2.124,2.66) (2.14,3.1) (2.155,2.8) (2.173,2.89) (2.19,3.05) (2.205,2.7) (2.223,2.58) (2.24,2.95) (2.255,2.7) (2.27,3.0) (2.29,2.65) (2.305,2.85) (2.322,2.79) (2.34,2.5) (2.36,2.7) (2.38,2.35) (2.396,2.43) (2.41,2.65) (2.43,2.3) (2.45,2.5) (2.47,2.22) (2.49,2.45) (2.51,2.15) (2.53,2.4) (2.545,2.43) (2.56,2.1) (2.58,2.05) (2.60,2.2) (2.62,1.81) (2.64,2.0) (2.66,1.85) (2.68,2.1) (2.694,2.07) (2.71,1.7) (2.73,1.9) (2.75,1.65) (2.768,1.60) (2.79,1.85) (2.81,1.6) (2.83,1.75) (2.85,1.5) (2.868,1.71) (2.89,1.45) (2.91,1.55) (2.93,1.35) (2.95,1.5) (2.967,1.40) (2.99,1.25) (3.01,1.45) (3.03,1.2) (3.05,1.35) (3.066,1.29) (3.09,1.1) (3.11,1.35) (3.13,1.05) (3.15,1.2) (3.165,1.14) (3.19,0.95) (3.21,1.15) (3.24,1.40) (3.26,1.0) (3.28,0.95) (3.30,0.8) (3.314,0.88) (3.34,0.72) (3.36,0.8) (3.39,0.65) (3.413,0.67) (3.44,0.58) (3.47,0.6) (3.51,0.55) (3.56,0.5) (3.61,0.6) (3.65,0.55) (3.71,0.52) (3.76,0.4) (3.81,0.31) (3.86,0.28) (3.91,0.26) (3.96,0.25) (4.0,0.24)};
\end{axis}
\begin{axis}[panel, rowD, at={(340.5pt,174pt)}, bottom x, inner y]
\addplot[cBlue] coordinates {(-0.2,1.0) (1.0,1.27) (1.27,1.29) (1.52,1.27) (1.72,1.17) (1.97,0.88) (2.26,0.67) (2.46,0.57) (2.758,0.42) (3.0,0.29) (3.05,0.285) (3.25,0.21) (3.50,0.12) (3.75,0.07) (4.0,0.06)};
\addplot[cTeal] coordinates {(-0.2,1.0) (1.0,1.09) (1.42,1.09) (1.668,1.17) (1.866,1.34) (2.02,1.55) (2.21,1.58) (2.36,1.61) (2.51,1.66) (2.58,1.62) (2.66,1.68) (2.72,1.64) (2.758,1.67) (2.83,1.71) (2.88,1.43) (2.956,1.40) (3.05,1.14) (3.15,0.85) (3.25,0.67) (3.40,0.46) (3.55,0.36) (3.75,0.29) (4.0,0.24)};
\addplot[cRed] coordinates {(-0.2,1.0) (1.0,1.1) (1.42,1.14) (1.72,1.27) (1.866,1.45) (1.97,1.58) (2.11,1.68) (2.21,1.75) (2.31,1.68) (2.46,1.61) (2.61,1.40) (2.758,1.22) (2.88,1.09) (3.0,1.06) (3.16,1.11) (3.25,1.03) (3.40,0.93) (3.55,0.88) (3.70,0.80) (3.85,0.78) (4.0,0.78)};
\addplot[cOrg] coordinates {(-0.2,1.0) (0.727,1.70) (1.0,1.75) (1.37,1.55) (1.668,1.34) (1.916,1.14) (2.163,1.06) (2.46,0.88) (2.758,0.77) (2.956,0.69) (3.25,0.70) (3.50,0.59) (3.75,0.57) (4.0,0.57)};
\addplot[cAmb] coordinates {(-0.2,1.0) (0.38,1.14) (1.0,1.27) (1.27,1.40) (1.52,1.46) (1.72,1.48) (1.866,1.43) (2.065,1.29) (2.26,1.27) (2.46,1.19) (2.61,1.09) (2.758,0.85) (2.907,0.83) (3.0,0.68) (3.25,0.47) (3.50,0.34) (3.75,0.26) (4.0,0.21)};
\end{axis}
\begin{axis}[panel, rowD, at={(492.5pt,174pt)}, bottom x, inner y]
\addplot[cBlue] coordinates {(-0.2,1.0) (1.004,1.77) (1.163,1.19) (1.31,0.88) (1.46,0.62) (1.56,0.54) (1.71,0.53) (1.856,0.56) (2.005,0.56) (2.20,0.53) (2.30,0.46) (2.40,0.41) (2.55,0.36) (2.70,0.31) (2.80,0.26) (2.90,0.09) (3.0,0.07) (3.19,0.05) (3.49,0.05) (4.0,0.03)};
\addplot[cTeal] coordinates {(-0.2,1.0) (1.004,1.07) (1.36,1.06) (1.56,1.13) (1.81,1.13) (2.005,1.09) (2.20,1.01) (2.40,0.88) (2.60,0.67) (2.80,0.49) (3.0,0.34) (3.29,0.24) (3.69,0.21) (4.0,0.21)};
\addplot[cRed] coordinates {(-0.2,1.0) (0.717,1.09) (1.004,1.19) (1.163,1.50) (1.31,1.73) (1.41,1.76) (1.51,1.61) (1.66,1.35) (1.81,1.14) (2.005,0.93) (2.20,0.78) (2.40,0.74) (2.55,0.80) (2.70,0.79) (2.85,0.88) (3.0,0.82) (3.19,0.78) (3.49,0.78) (4.0,0.75)};
\addplot[cOrg] coordinates {(-0.2,1.0) (1.004,1.28) (1.21,1.19) (1.41,1.06) (1.61,0.88) (1.81,0.72) (2.005,0.65) (2.30,0.59) (2.50,0.58) (2.70,0.62) (2.90,0.61) (3.19,0.58) (4.0,0.57)};
\addplot[cAmb] coordinates {(-0.2,1.0) (1.004,1.19) (1.21,1.23) (1.46,1.14) (1.71,1.11) (1.81,1.09) (1.91,1.06) (2.05,1.01) (2.20,0.78) (2.40,0.52) (2.60,0.36) (2.80,0.27) (3.10,0.22) (3.49,0.18) (4.0,0.17)};
\end{axis}
% ================= STRIPS =================
\foreach \xc/\lab in {36.15/{SAEM\char"2212 pen}, 188.5/{SAPG Fixed Step Size 1}, 340.5/{SAPG Fixed Step Size 2}, 492.5/{SAPG Random Step Size}}{
  \draw[fill=stripc, draw=frame, line width=0.8pt] (\xc pt,627.5pt) rectangle ++(148pt,14.65pt);
  \node[anchor=base, font=\fontsize{8.8}{10}\selectfont\bfseries, inner sep=0pt] at (\xc pt+74pt,631.9pt) {\lab};
}
\foreach \yt/\lab in {627.5/COVARIATES, 476.5/FIXED EFFECTS, 325.5/RESIDUAL ERROR SD, 174/VARIANCES}{
  \draw[fill=stripc, draw=frame, line width=0.8pt] (640.5pt,\yt pt) rectangle (662pt,\yt pt-146.75pt);
  \node[anchor=base, rotate=-90, font=\fontsize{8.8}{10}\selectfont\bfseries, inner sep=0pt] at (644.6pt,\yt pt-73.375pt) {\lab};
}
\node[anchor=base, font=\fontsize{9.6}{11}\selectfont\bfseries, inner sep=0pt] at (338.3pt,1.6pt) {Iteration};
\node[anchor=base, rotate=90, font=\fontsize{9.6}{11}\selectfont\bfseries, inner sep=0pt] at (13.6pt,329pt) {Parameter value};
\pgfresetboundingbox
\path[use as bounding box] (0pt,0pt) rectangle (650.5pt,648.5pt);
\end{tikzpicture}
\end{document}
